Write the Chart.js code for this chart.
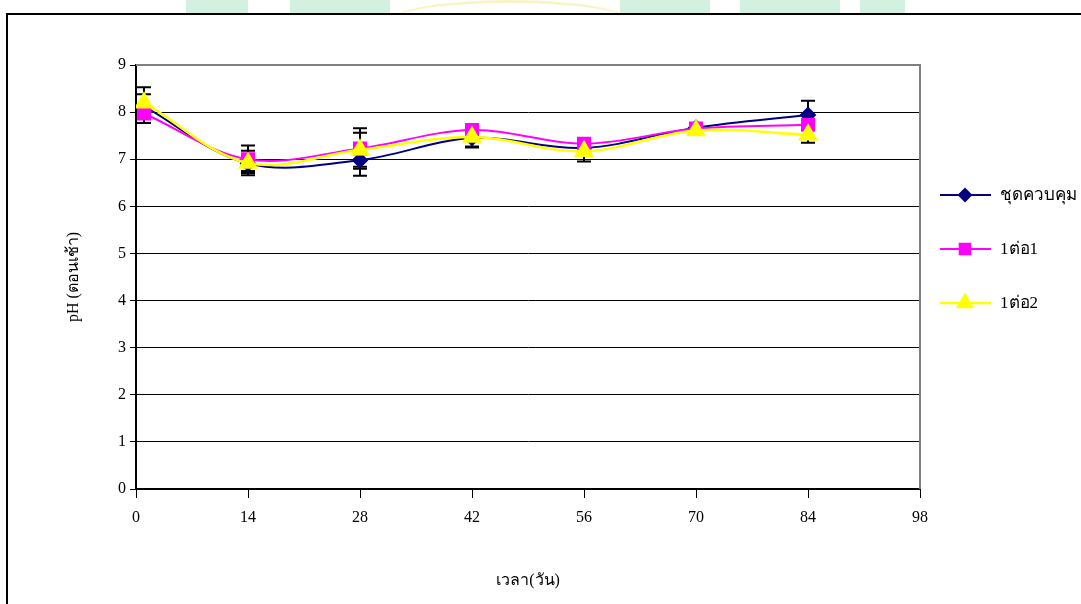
<!DOCTYPE html>
<html>
<head>
<meta charset="utf-8">
<script src="https://cdn.jsdelivr.net/npm/chart.js@4.4.1/dist/chart.umd.min.js"></script>
<style>
  html, body { margin: 0; padding: 0; background: #ffffff; overflow: hidden; }
  #wrap { position: relative; width: 1081px; height: 604px; }
  #wm { position: absolute; left: 0; top: 0; width: 1081px; height: 14px; overflow: hidden; }
  .g { position: absolute; background: #d3f1e1; }
  .y { position: absolute; border-top: 3px solid #fbf3c8; border-radius: 50%; }
  #box { position: absolute; left: 6px; top: 13px; width: 1200px; height: 700px; border-top: 2px solid #000; border-left: 2px solid #000; background: #fff; }
  canvas { position: absolute; left: 0; top: 0; }
</style>
</head>
<body>
<div id="wrap">
  <div id="wm">
    <div class="g" style="left:186px;top:0;width:62px;height:14px;"></div>
    <div class="g" style="left:290px;top:0;width:100px;height:14px;"></div>
    <div class="g" style="left:620px;top:0;width:90px;height:14px;"></div>
    <div class="g" style="left:740px;top:0;width:100px;height:14px;"></div>
    <div class="g" style="left:860px;top:0;width:45px;height:14px;"></div>
    <div class="y" style="left:390px;top:0;width:240px;height:40px;"></div>
  </div>
  <div id="box"></div>
  <canvas id="c" width="1081" height="604"></canvas>
</div>
<script>
const days = [1, 14, 28, 42, 56, 70, 84];
const xTicks = [0, 14, 28, 42, 56, 70, 84, 98];
const seriesNames = ['ชุดควบคุม', '1ต่อ1', '1ต่อ2'];
const control = [8.12, 6.91, 6.98, 7.45, 7.24, 7.67, 7.94];
const ratio11 = [7.97, 7.00, 7.23, 7.62, 7.33, 7.65, 7.73];
const ratio12 = [8.20, 6.92, 7.20, 7.47, 7.17, 7.61, 7.52];
const errControl = [0.26, 0.16, 0.33, 0.20, 0.10, 0.05, 0.30];
const err11 = [0.20, 0.29, 0.43, 0.12, 0.08, 0.05, 0.08];
const err12 = [0.33, 0.26, 0.36, 0.20, 0.22, 0.05, 0.17];

const FONT = '"Liberation Serif", "Times New Roman", serif';

function pts(vals) { return days.map((d, i) => ({ x: d, y: vals[i] })); }

const errorBars = {
  id: 'errorBars',
  beforeDatasetsDraw(chart) {
    const ctx = chart.ctx;
    const xs = chart.scales.x, ys = chart.scales.y;
    ctx.save();
    ctx.strokeStyle = '#000';
    ctx.lineWidth = 2;
    chart.data.datasets.forEach(ds => {
      ds.data.forEach((p, i) => {
        const e = ds.errors[i];
        const px = Math.round(xs.getPixelForValue(p.x));
        const y1 = ys.getPixelForValue(p.y + e);
        const y2 = ys.getPixelForValue(p.y - e);
        ctx.beginPath();
        ctx.moveTo(px, y1); ctx.lineTo(px, y2);
        ctx.moveTo(px - 7, y1); ctx.lineTo(px + 7, y1);
        ctx.moveTo(px - 7, y2); ctx.lineTo(px + 7, y2);
        ctx.stroke();
      });
    });
    ctx.restore();
  }
};

const frame = {
  id: 'frame',
  beforeDatasetsDraw(chart) {
    const ctx = chart.ctx, a = chart.chartArea;
    ctx.save();
    ctx.strokeStyle = '#808080';
    ctx.lineWidth = 2;
    ctx.beginPath();
    ctx.moveTo(a.left, a.top); ctx.lineTo(a.right, a.top); ctx.lineTo(a.right, a.bottom);
    ctx.stroke();
    ctx.restore();
  }
};

const legendPlugin = {
  id: 'customLegend',
  afterDraw(chart) {
    const ctx = chart.ctx;
    const ys = [195, 249, 303];
    ctx.save();
    chart.data.datasets.forEach((ds, i) => {
      const y = ys[i];
      ctx.strokeStyle = ds.borderColor;
      ctx.lineWidth = ds.borderWidth;
      ctx.beginPath();
      ctx.moveTo(940, y); ctx.lineTo(991, y);
      ctx.stroke();
      ctx.fillStyle = ds.pointBackgroundColor;
      ctx.strokeStyle = ds.pointBorderColor;
      Chart.helpers.drawPoint(ctx, { pointStyle: ds.pointStyle, radius: ds.legendRadius, borderWidth: 1, rotation: 0 }, 965, y);
      ctx.fillStyle = '#000';
      ctx.font = '17px ' + FONT;
      ctx.textBaseline = 'middle';
      ctx.textAlign = 'left';
      ctx.fillText(ds.label, 1000, y + 1);
    });
    ctx.restore();
  }
};

new Chart(document.getElementById('c'), {
  type: 'line',
  data: {
    datasets: [
      { label: seriesNames[0], data: pts(control), errors: errControl, borderColor: '#000080', backgroundColor: '#000080',
        pointBackgroundColor: '#000080', pointBorderColor: '#000080', pointStyle: 'rectRot', pointRadius: 7, legendRadius: 6,
        borderWidth: 2, tension: 0.35, order: 3 },
      { label: seriesNames[1], data: pts(ratio11), errors: err11, borderColor: '#FF00FF', backgroundColor: '#FF00FF',
        pointBackgroundColor: '#FF00FF', pointBorderColor: '#FF00FF', pointStyle: 'rect', pointRadius: 8.5, legendRadius: 7.5,
        borderWidth: 2, tension: 0.35, order: 2 },
      { label: seriesNames[2], data: pts(ratio12), errors: err12, borderColor: '#FFFF00', backgroundColor: '#FFFF00',
        pointBackgroundColor: '#FFFF00', pointBorderColor: '#FFFF00', pointStyle: 'triangle', pointRadius: 9, legendRadius: 8,
        borderWidth: 2.5, tension: 0.35, order: 1 }
    ]
  },
  options: {
    responsive: false,
    animation: false,
    devicePixelRatio: 1,
    layout: { padding: { left: 0, top: 65, right: 161, bottom: 0 } },
    plugins: { legend: { display: false }, tooltip: { enabled: false } },
    scales: {
      x: {
        type: 'linear', min: 0, max: 98,
        afterBuildTicks(scale) { scale.ticks = xTicks.map(v => ({ value: v })); },
        afterFit(scale) { scale.height = 115; },
        grid: { drawOnChartArea: false, drawTicks: true, tickLength: 9, color: '#000', lineWidth: 1 },
        border: { color: '#000', width: 2 },
        ticks: { color: '#000', font: { family: FONT, size: 16 }, padding: 10, maxRotation: 0, autoSkip: false },
        title: { display: true, text: 'เวลา(วัน)', color: '#000', font: { family: FONT, size: 16 }, padding: { top: 0, bottom: 14 } }
      },
      y: {
        min: 0, max: 9,
        ticks: { stepSize: 1, color: '#000', font: { family: FONT, size: 16 }, padding: 4 },
        afterFit(scale) { scale.width = 136; },
        grid: { color: '#000', lineWidth: 1, tickLength: 6 },
        border: { color: '#000', width: 2 },
        title: { display: true, text: 'pH (ตอนเช้า)', color: '#000', font: { family: FONT, size: 16 }, padding: { top: 64, bottom: 0 } }
      }
    }
  },
  plugins: [frame, errorBars, legendPlugin]
});
</script>
</body>
</html>
